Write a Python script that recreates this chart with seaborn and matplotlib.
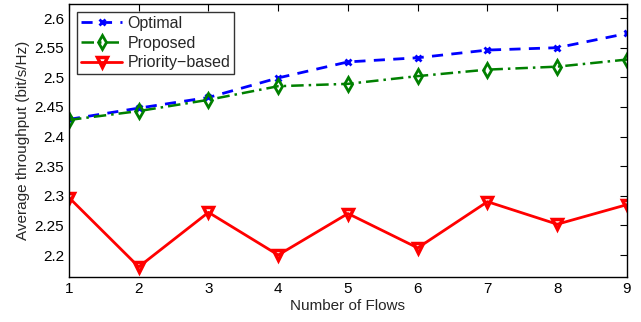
import pandas as pd
import matplotlib
matplotlib.use("Agg")
import matplotlib.pyplot as plt
import seaborn as sns

# Datos
flows = [1, 2, 3, 4, 5, 6, 7, 8, 9]
optimal = [2.429, 2.448, 2.466, 2.499, 2.526, 2.533, 2.546, 2.550, 2.574]
proposed = [2.428, 2.443, 2.462, 2.485, 2.489, 2.502, 2.513, 2.518, 2.530]
priority = [2.297, 2.180, 2.272, 2.200, 2.270, 2.212, 2.290, 2.252, 2.285]

sns.set_style("white")
plt.rcParams["font.family"] = ["Liberation Sans", "DejaVu Sans"]
plt.rcParams["font.size"] = 11

fig = plt.figure(figsize=(6.41, 3.22), dpi=100)
ax = fig.add_axes([0.1076, 0.14, 0.8705, 0.848])

sns.lineplot(x=flows, y=optimal, ax=ax, color="#0000ff", linestyle=(0, (4, 3)),
             linewidth=2, marker="x", markersize=4, markeredgewidth=2,
             markeredgecolor="#0000ff", label="Optimal")
sns.lineplot(x=flows, y=proposed, ax=ax, color="#008000", linestyle=(0, (5, 2, 1, 2)),
             linewidth=1.8, marker="d", markersize=7, markerfacecolor="none",
             markeredgecolor="#008000", markeredgewidth=2, label="Proposed")
sns.lineplot(x=flows, y=priority, ax=ax, color="#ff0000", linestyle="-",
             linewidth=2, marker="v", markersize=7, markerfacecolor="none",
             markeredgecolor="#ff0000", markeredgewidth=2.5, label="Priority\u2212based")

ax.set_xlim(1, 9)
ax.set_ylim(2.163, 2.624)
ax.set_xticks(flows)
ax.set_yticks([2.2, 2.25, 2.3, 2.35, 2.4, 2.45, 2.5, 2.55, 2.6])
ax.set_yticklabels(["2.2", "2.25", "2.3", "2.35", "2.4", "2.45", "2.5", "2.55", "2.6"])
ax.set_xlabel("Number of Flows", labelpad=2)
ax.set_ylabel("Average throughput (bit/s/Hz)", labelpad=3)
ax.tick_params(direction="in", top=True, right=True, length=5, width=0.8, colors="black", labelsize=11)
for s in ax.spines.values():
    s.set_color("black")
    s.set_linewidth(1)

leg = ax.legend(loc="upper left", frameon=True, fancybox=False, borderpad=0.25,
                handlelength=2.6, handletextpad=0.3, labelspacing=0.3,
                borderaxespad=0.5, fontsize=11.5)
leg.get_frame().set_edgecolor("black")
leg.get_frame().set_linewidth(1)

fig.savefig("out.png", dpi=100)
